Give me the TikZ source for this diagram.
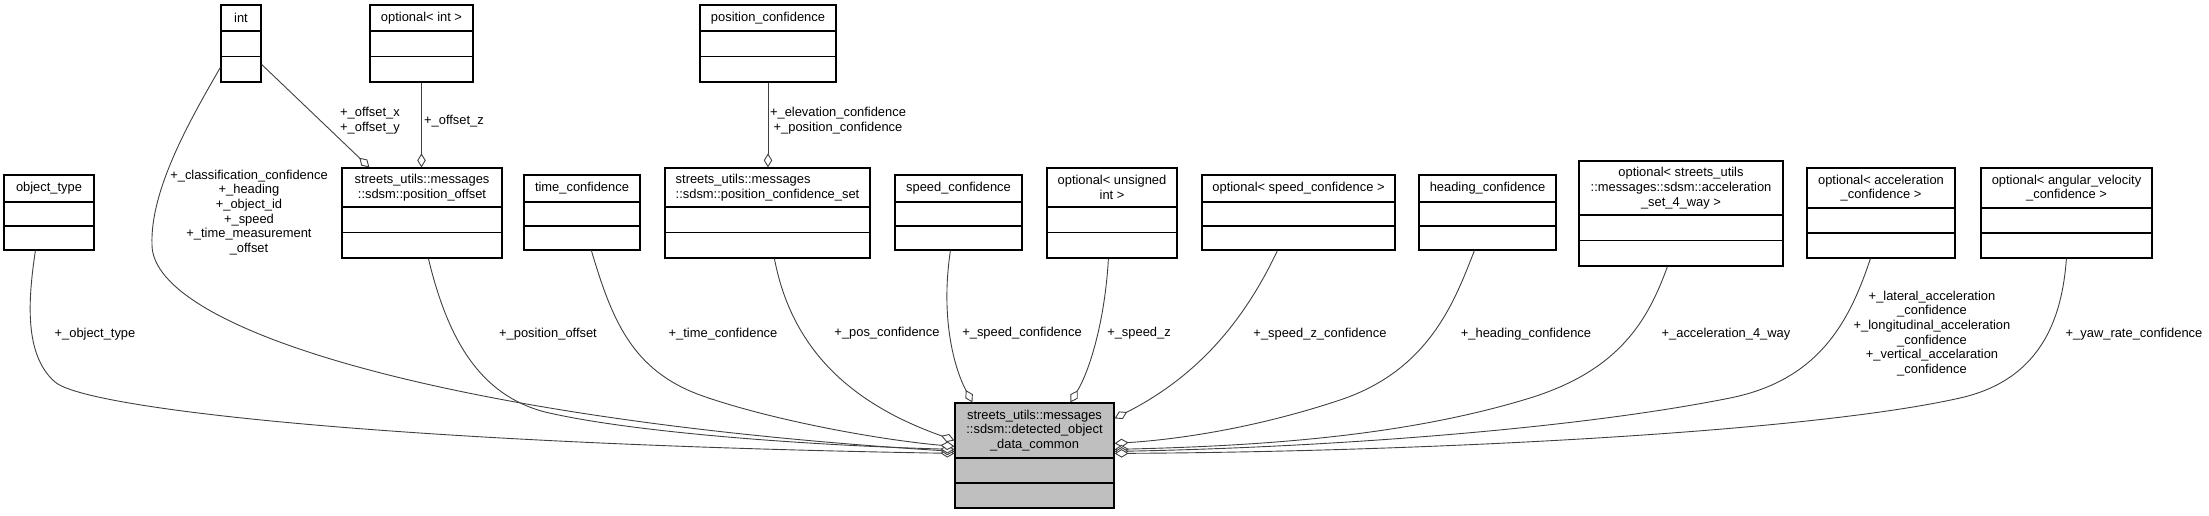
\documentclass[tikz,border=0pt]{standalone}
\usepackage{fontspec}
\setmainfont{Liberation Sans}
\usetikzlibrary{arrows.meta,fit,calc}
\definecolor{edgec}{HTML}{404040}
\definecolor{mainfill}{HTML}{BFBFBF}
\tikzset{
  umlcls/.style={draw=black, line width=1.2pt, inner sep=0pt},
  umltitle/.style={inner sep=0pt, font=\fontsize{12.9}{14.7}\selectfont},
  lbl/.style={inner sep=0pt, align=center, font=\fontsize{12.9}{14.7}\selectfont},
  agg/.style={draw=edgec, line width=0.9pt, -{Diamond[fill=white, length=14pt, width=8.5pt]}},
}
% #1 fill, #2 name, #3 x1, #4 top, #5 x2, #6 bottom, #7 header line y, #8 align, #9 title
\newcommand\umlbox[9][white]{%
  \node[umlcls, fill=#1, fit={(#3,#4) (#5,#6)}] (#2) {};
  \node[umltitle, align=#8] (#2-t) at ({(#3+#5)/2},{(#4+#7)/2}) {#9};
  \draw[umlcls] (#3,#7) -- (#5,#7) (#3,{(#7+#6)/2}) -- (#5,{(#7+#6)/2});
}
\begin{document}
\begin{tikzpicture}[x=1pt,y=-1pt]
\useasboundingbox (0,0) rectangle (2209,515);
% boxes
\umlbox{ot}{4}{175}{94}{250}{202}{center}{object\_type}
\umlbox{int}{221}{5}{261}{82}{31}{center}{int}
\umlbox{oi}{370}{5}{473}{82}{31}{center}{optional< int >}
\umlbox{pc}{700}{5}{836}{82}{31}{center}{position\_confidence}
\umlbox{po}{342}{168}{502}{258}{207}{center}{streets\_utils::messages\\::sdsm::position\_offset}
\umlbox{tc}{524}{175}{640}{250}{202}{center}{time\_confidence}
\umlbox{pcs}{665}{168}{870}{258}{207}{left}{streets\_utils::messages\\::sdsm::position\_confidence\_set}
\umlbox{sc}{895}{175}{1022}{250}{202}{center}{speed\_confidence}
\umlbox{oui}{1047}{168}{1177}{258}{207}{center}{optional< unsigned\\int >}
\umlbox{osc}{1202}{175}{1395}{250}{202}{center}{optional< speed\_confidence >}
\umlbox{hc}{1419}{175}{1556}{250}{202}{center}{heading\_confidence}
\umlbox{oas}{1579}{161}{1783}{266}{215}{center}{optional< streets\_utils\\::messages::sdsm::acceleration\\\_set\_4\_way >}
\umlbox{oac}{1807}{168}{1955}{258}{208}{center}{optional< acceleration\\\_confidence >}
\umlbox{oav}{1981}{168}{2152}{258}{208}{center}{optional< angular\_velocity\\\_confidence >}
\umlbox[mainfill]{dc}{955}{403}{1114}{508}{458}{center}{streets\_utils::messages\\::sdsm::detected\_object\\\_data\_common}
% upper connectors
\draw[agg] ($(int.north east)+(0,60)$) -- ($(po.north west)+(28,0)$);
\draw[agg] (oi.south) -- (oi.south |- po.north);
\draw[agg] (pc.south) -- (pc.south |- pcs.north);
% connectors into the main class, left side
\draw[agg] ($(ot.south west)+(32,0)$) .. controls (28,300) and (24,355) .. (55,382) .. controls (86,409) and (400,444) .. ($(dc.north west)+(0,51)$);
\draw[agg] ($(int.north west)+(0,63)$) .. controls (190,120) and (150,190) .. (152,245) .. controls (153,330) and (450,420) .. ($(dc.north west)+(0,49)$);
\draw[agg] ($(po.south west)+(87,0)$) .. controls (448,340) and (480,395) .. (545,412) .. controls (630,432) and (800,445) .. ($(dc.north west)+(0,47)$);
\draw[agg] ($(tc.south west)+(68,0)$) .. controls (612,320) and (632,370) .. (700,395) .. controls (770,420) and (880,440) .. ($(dc.north west)+(0,44)$);
\draw[agg] ($(pcs.south west)+(110,0)$) .. controls (790,340) and (840,400) .. ($(dc.north west)+(0,38)$);
% top
\draw[agg] ($(sc.south west)+(56,0)$) .. controls (940,320) and (955,370) .. ($(dc.north west)+(18,0)$);
\draw[agg] ($(oui.south west)+(62,0)$) .. controls (1105,320) and (1090,370) .. ($(dc.north west)+(116,0)$);
% right side
\draw[agg] ($(osc.south west)+(76,0)$) .. controls (1240,330) and (1190,380) .. ($(dc.north east)+(0,16)$);
\draw[agg] ($(hc.south west)+(56,0)$) .. controls (1455,300) and (1430,370) .. (1340,400) .. controls (1250,430) and (1170,440) .. ($(dc.north east)+(0,41)$);
\draw[agg] ($(oas.south west)+(89,0)$) .. controls (1648,320) and (1620,370) .. (1530,398) .. controls (1400,438) and (1250,446) .. ($(dc.north east)+(0,47)$);
\draw[agg] ($(oac.south west)+(64,0)$) .. controls (1850,320) and (1820,380) .. (1730,398) .. controls (1560,432) and (1300,448) .. ($(dc.north east)+(0,49)$);
\draw[agg] ($(oav.south west)+(86,0)$) .. controls (2062,320) and (2040,380) .. (1960,398) .. controls (1800,434) and (1400,452) .. ($(dc.north east)+(0,51)$);
% labels
\node[lbl] (l-int) at (249,212.5) {+\_classification\_confidence\\+\_heading\\+\_object\_id\\+\_speed\\+\_time\_measurement\\\_offset};
\node[lbl] (l-oxy) at (370,120.5) {+\_offset\_x\\+\_offset\_y};
\node[lbl] (l-oz) at (454,121) {+\_offset\_z};
\node[lbl] (l-pc) at (838,120.5) {+\_elevation\_confidence\\+\_position\_confidence};
\node[lbl] (l-ot) at (95,334) {+\_object\_type};
\node[lbl] (l-po) at (548,334) {+\_position\_offset};
\node[lbl] (l-tc) at (723,334) {+\_time\_confidence};
\node[lbl] (l-pcs) at (887,333) {+\_pos\_confidence};
\node[lbl] (l-sc) at (1022,333) {+\_speed\_confidence};
\node[lbl] (l-sz) at (1139,333) {+\_speed\_z};
\node[lbl] (l-szc) at (1320,334) {+\_speed\_z\_confidence};
\node[lbl] (l-hc) at (1526,334) {+\_heading\_confidence};
\node[lbl] (l-a4) at (1726,334) {+\_acceleration\_4\_way};
\node[lbl] (l-ac) at (1932,333.5) {+\_lateral\_acceleration\\\_confidence\\+\_longitudinal\_acceleration\\\_confidence\\+\_vertical\_accelaration\\\_confidence};
\node[lbl] (l-yaw) at (2134,334) {+\_yaw\_rate\_confidence};
\end{tikzpicture}
\end{document}
